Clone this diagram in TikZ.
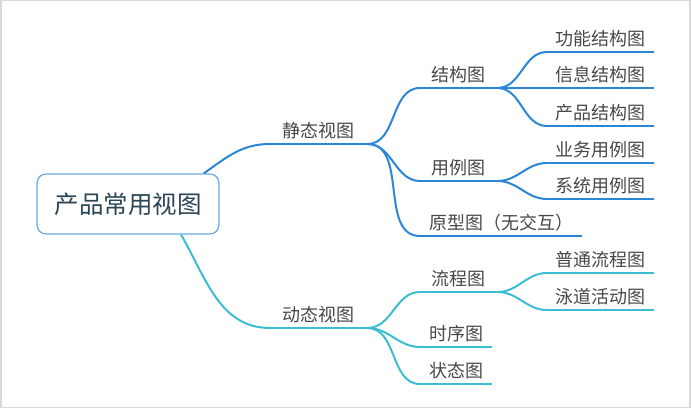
\documentclass[tikz,border=0pt]{standalone}
\usepackage{fontspec}
\setmainfont{Noto Sans CJK SC}

\definecolor{jblue}{HTML}{2B86D6}
\definecolor{dcyan}{HTML}{3BBED2}
\definecolor{rootedge}{HTML}{6AA9DC}
\definecolor{txt}{HTML}{474747}
\definecolor{roottxt}{HTML}{2A4656}

\begin{document}
\begin{tikzpicture}[x=1pt,y=1pt,
  lbl/.style={anchor=south west, inner xsep=0pt, inner ysep=3pt, text height=13pt, text depth=3pt, font=\fontsize{18}{18}\selectfont, text=txt},
  jline/.style={jblue, line width=2pt},
  dline/.style={dcyan, line width=2pt}]
\useasboundingbox (0,0) rectangle (691,409);
\draw[gray!30, line width=1.5pt] (0.75,1.5) rectangle (690,408.25);

\node[draw=rootedge, line width=1.2pt, rounded corners=9pt, fill=white, minimum width=182pt, minimum height=60pt, text=roottxt, font=\fontsize{24.5}{24.5}\selectfont] (root) at (128,205) {产品常用视图};

% static side
\node[lbl, minimum width=97pt] (jt) at (270,265) {静态视图};
\node[lbl, minimum width=77pt] (jg) at (420,321) {结构图};
\node[lbl, minimum width=77pt] (yl) at (420,228) {用例图};
\node[lbl, minimum width=162pt] (yx) at (420,173) {原型图（无交互）};
\node[lbl, minimum width=107pt] (gn) at (547,357) {功能结构图};
\node[lbl, minimum width=107pt] (xx) at (547,321) {信息结构图};
\node[lbl, minimum width=107pt] (cp) at (547,283) {产品结构图};
\node[lbl, minimum width=107pt] (yw) at (547,246) {业务用例图};
\node[lbl, minimum width=107pt] (xt) at (547,210) {系统用例图};

% dynamic side
\node[lbl, minimum width=97pt] (dt) at (270,81) {动态视图};
\node[lbl, minimum width=77pt] (lc) at (420,117) {流程图};
\node[lbl, minimum width=72pt] (sx) at (420,62) {时序图};
\node[lbl, minimum width=72pt] (zt) at (420,25) {状态图};
\node[lbl, minimum width=107pt] (pt) at (547,136) {普通流程图};
\node[lbl, minimum width=107pt] (yd) at (547,99) {泳道活动图};

\foreach \n in {jt,jg,yl,yx,gn,xx,cp,yw,xt}
  \draw[jline] (\n.south west) -- (\n.south east);
\foreach \n in {dt,lc,sx,zt,pt,yd}
  \draw[dline] (\n.south west) -- (\n.south east);

\draw[jline] (root.22) to[out=35,in=180] (jt.south west);
\foreach \n in {jg,yl,yx}
  \draw[jline] (jt.south east) to[out=0,in=180] (\n.south west);
\foreach \n in {gn,xx,cp}
  \draw[jline] (jg.south east) to[out=0,in=180] (\n.south west);
\foreach \n in {yw,xt}
  \draw[jline] (yl.south east) to[out=0,in=180] (\n.south west);

\draw[dline] (root.-30) to[out=-60,in=180] (dt.south west);
\foreach \n in {lc,sx,zt}
  \draw[dline] (dt.south east) to[out=0,in=180] (\n.south west);
\foreach \n in {pt,yd}
  \draw[dline] (lc.south east) to[out=0,in=180] (\n.south west);
\end{tikzpicture}
\end{document}
